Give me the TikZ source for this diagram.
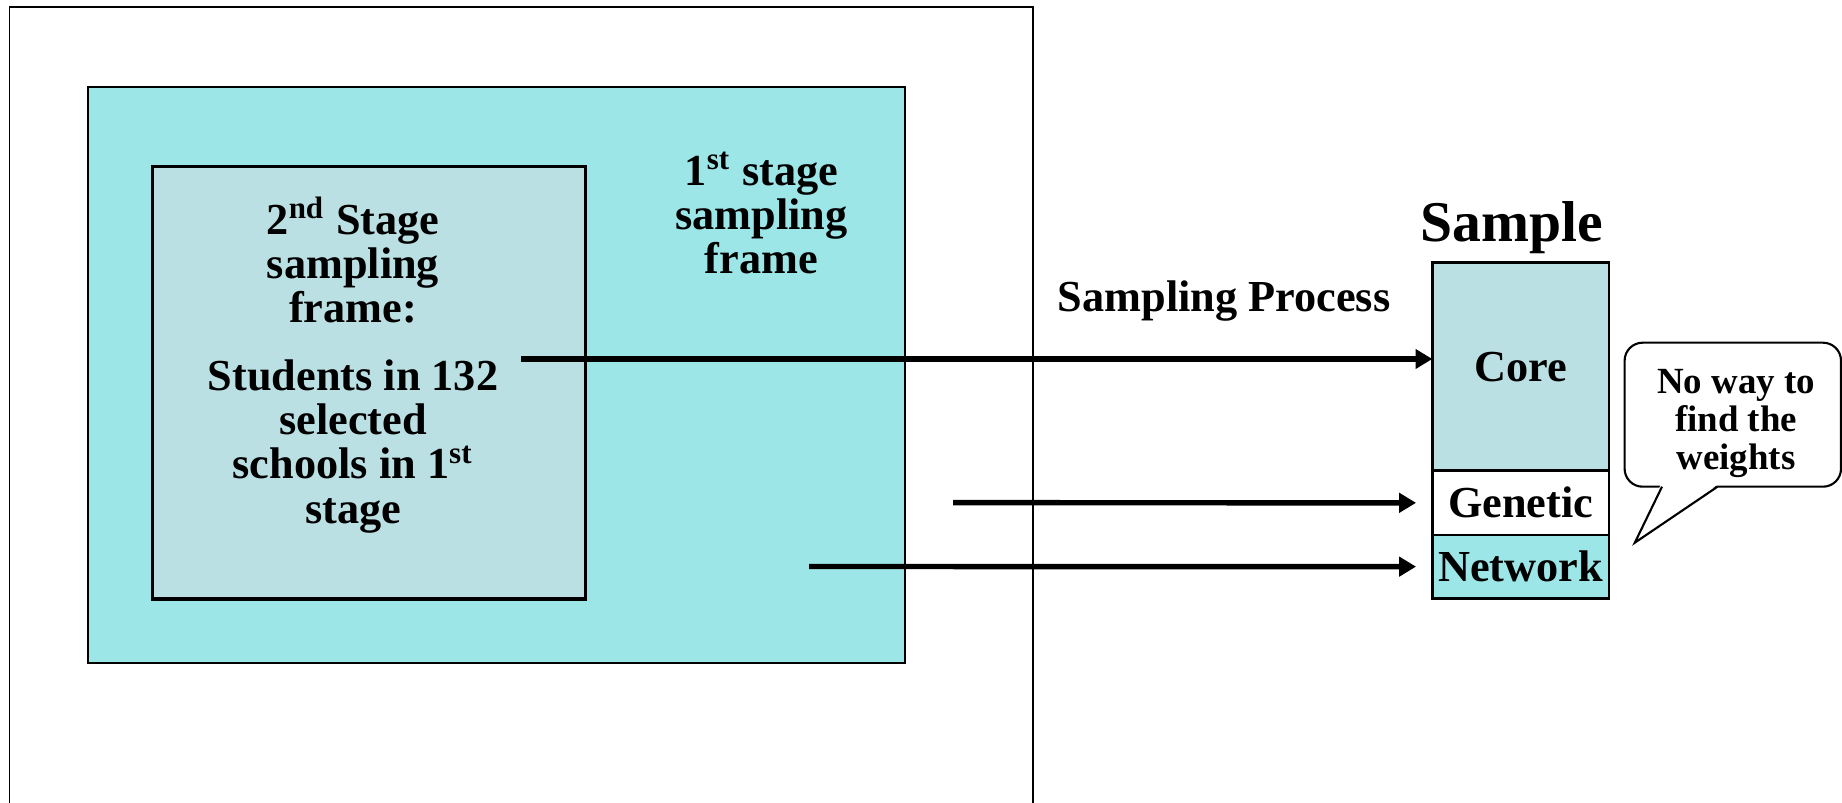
\documentclass[tikz,border=0pt]{standalone}
\usepackage{fontspec}
\setmainfont{Liberation Serif}
\usetikzlibrary{arrows.meta,positioning}

\definecolor{framecyan}{RGB}{156,230,232}
\definecolor{framegrey}{RGB}{187,224,227}

\begin{document}
\begin{tikzpicture}[
    txt/.style={align=center, font=\fontsize{12.6}{12.6}\selectfont\bfseries},
    part/.style={draw, line width=0.75pt, minimum width=1.767cm, inner sep=0pt, outer sep=0pt,
      font=\fontsize{12.6}{12.6}\selectfont\bfseries},
    flow/.style={-{Triangle[length=4.8pt,width=5.4pt]}, line width=1.55pt},
  ]
  \useasboundingbox (0,0) rectangle (18.42,8.03);
  % population frames
  \draw[line width=0.45pt] (0.094,-0.1) -- (0.094,7.96) -- (10.33,7.96) -- (10.33,-0.1);
  \node[draw, line width=0.6pt, fill=framecyan, minimum width=8.163cm, minimum height=5.762cm] (stage1) at (4.965,4.279) {};
  \node[draw, line width=1pt, fill=framegrey, minimum width=4.326cm, minimum height=4.328cm] (stage2) at (3.69,4.202) {};
  \node[txt] (label1) at (7.614,5.897) {1\textsuperscript{st} stage\\sampling\\frame};
  \node[txt] (label2) at (3.53,5.425) {2\textsuperscript{nd} Stage\\sampling\\frame:};
  \node[txt] (students) at (3.53,3.568) {Students in 132\\selected\\schools in 1\textsuperscript{st}\\stage};
  % sample
  \node[font=\fontsize{16.4}{16.4}\selectfont\bfseries] (sample) at (15.118,5.755) {Sample};
  \node[part, fill=framegrey, minimum height=2.08cm] (core) at (15.207,4.363) {Core};
  \node[part, fill=white, minimum height=0.643cm, below=0pt of core] (genetic) {Genetic};
  \node[part, fill=framecyan, minimum height=0.633cm, below=0pt of genetic] (network) {Network};
  \node[txt] (process) at (12.24,5.018) {Sampling Process};
  % arrows
  \coordinate (from1) at (5.21,4.44);
  \coordinate (from2) at (9.53,3.003);
  \coordinate (from3) at (8.09,2.365);
  \draw[flow] (from1) -- (from1 -| core.west);
  \draw[flow, shorten >=0.163cm] (from2) -- (genetic.west);
  \draw[flow, shorten >=0.163cm] (from3) -- (network.west);
  % callout
  \draw[line width=0.6pt, rounded corners=0.18cm, fill=white] (16.246,3.163) rectangle (18.41,4.603);
  \fill[white] (16.61,3.19) -- (16.348,2.603) -- (17.185,3.19) -- cycle;
  \draw[line width=0.6pt] (16.62,3.163) -- (16.348,2.603) -- (17.175,3.163);
  \node[txt, font=\fontsize{10.5}{10.8}\selectfont\bfseries] (note) at (17.36,3.795) {No way to\\find the\\weights};
\end{tikzpicture}
\end{document}
